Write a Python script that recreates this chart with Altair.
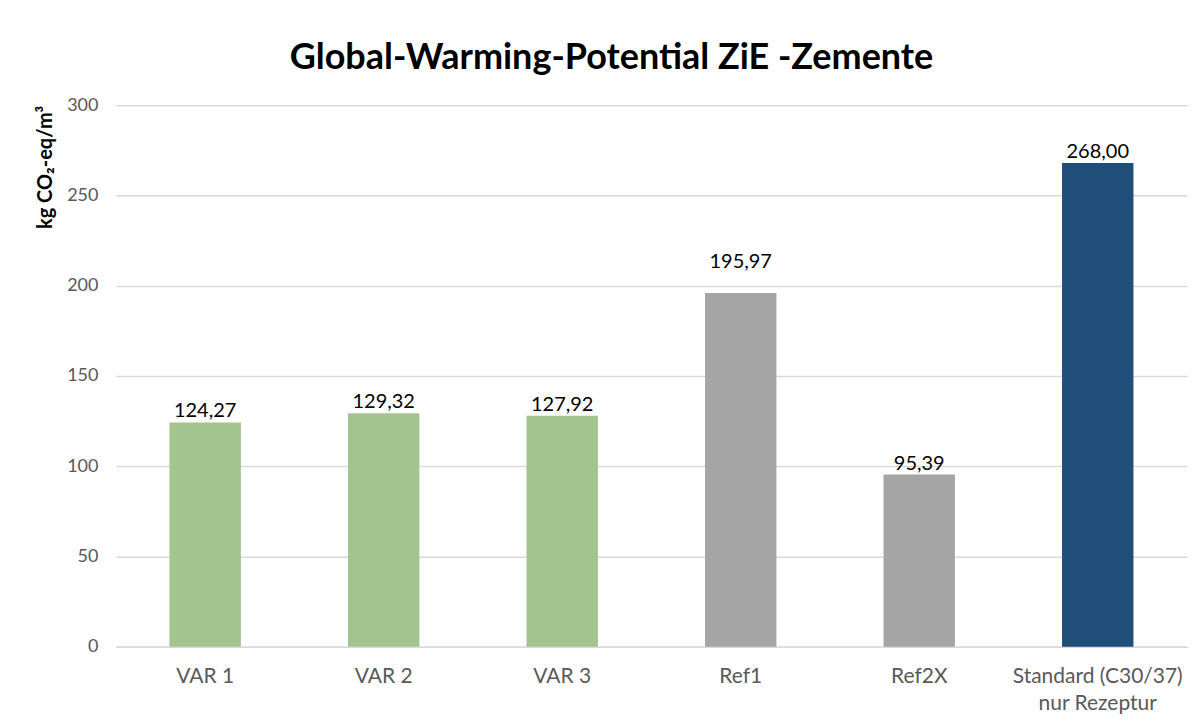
import altair as alt
import pandas as pd

categories = ["VAR 1", "VAR 2", "VAR 3", "Ref1", "Ref2X", "Standard (C30/37)\nnur Rezeptur"]
values = [124.27, 129.32, 127.92, 195.97, 95.39, 268.00]
groups = ["ZiE", "ZiE", "ZiE", "Ref", "Ref", "Standard"]
group_names = ["ZiE", "Ref", "Standard"]
group_colors = ["#A3C48F", "#A5A5A5", "#1F4E79"]

df = pd.DataFrame({
    "cat": categories,
    "value": values,
    "group": groups,
    "label": [f"{v:.2f}".replace(".", ",") for v in values],
})

FONT = "Lato"

base = alt.Chart(df).encode(
    x=alt.X("cat:N", sort=categories, title=None,
            scale=alt.Scale(paddingInner=0.6, paddingOuter=0.3),
            axis=alt.Axis(labelAngle=0, labelExpr="split(datum.label, '\\n')",
                          labelFontSize=21, labelColor="#595959", labelFont=FONT,
                          labelPadding=19, ticks=False, domainColor="#D9D9D9",
                          domainWidth=1.5, labelLineHeight=27)),
    y=alt.Y("value:Q", title="kg CO₂-eq/m³",
            scale=alt.Scale(domain=[0, 300], nice=False),
            axis=alt.Axis(values=[0, 50, 100, 150, 200, 250, 300], ticks=False, domain=False,
                          labelFontSize=18, labelColor="#595959", labelFont=FONT,
                          labelPadding=18, gridColor="#D9D9D9", gridWidth=1.5,
                          titleFont=FONT, titleFontSize=20, titleFontWeight="bold",
                          titleColor="#000000", titleAngle=270, titleAlign="right",
                          titleBaseline="middle", titleX=-70, titleY=0)),
)

bars = base.mark_bar().encode(
    color=alt.Color("group:N", scale=alt.Scale(domain=group_names, range=group_colors), legend=None)
)

labels = base.mark_text(baseline="alphabetic", dy=-5, fontSize=20, font=FONT, color="#000000").encode(
    text="label:N"
).transform_filter(alt.datum.cat != "Ref1")

labels_ref1 = base.mark_text(baseline="alphabetic", dy=-25, fontSize=20, font=FONT, color="#000000").encode(
    text="label:N"
).transform_filter(alt.datum.cat == "Ref1")

chart = (bars + labels + labels_ref1).properties(
    width=1072, height=542,
    padding={"left": 108, "top": 97, "right": 9, "bottom": 70},
    autosize=alt.AutoSizeParams(type="none"),
    title=alt.TitleParams("Global-Warming-Potential ZiE -Zemente", font=FONT, fontSize=36,
                          fontWeight="bold", color="#000000", anchor="middle", dx=-40, offset=19),
).configure_view(stroke=None)

chart.save("out.html", embed_options={"renderer": "svg", "actions": False})
